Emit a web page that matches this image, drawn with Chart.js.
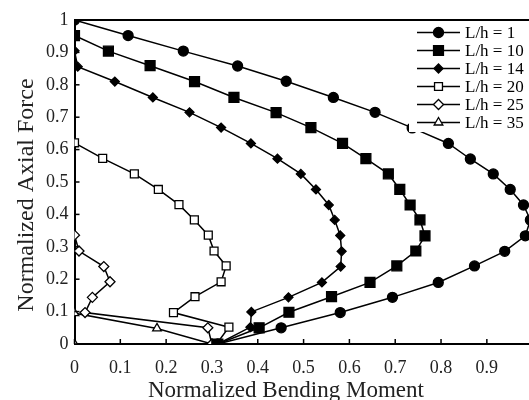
<!DOCTYPE html>
<html>
<head>
<meta charset="utf-8">
<script src="https://cdn.jsdelivr.net/npm/chart.js@4.4.0/dist/chart.umd.min.js"></script>
<style>
  body { margin: 0; background: #fff; }
  #wrap { width: 529px; height: 400px; position: relative; }
</style>
</head>
<body>
<div id="wrap"><canvas id="chart"></canvas></div>
<script>
// values (x = normalized moment, y = normalized axial force)
const seriesNames = ["L/h = 1", "L/h = 10", "L/h = 14", "L/h = 20", "L/h = 25", "L/h = 35"];

const m1 = [0, 0.117, 0.2375, 0.356, 0.462, 0.565, 0.656, 0.737, 0.816, 0.864, 0.914, 0.951, 0.980, 0.995, 0.984, 0.939, 0.873, 0.794, 0.694, 0.58, 0.451, 0.313];
const n1 = [1, 0.952, 0.904, 0.858, 0.811, 0.761, 0.715, 0.667, 0.619, 0.571, 0.525, 0.477, 0.429, 0.383, 0.334, 0.286, 0.241, 0.190, 0.144, 0.097, 0.050, 0];

const m10 = [0, 0.074, 0.165, 0.262, 0.348, 0.440, 0.516, 0.585, 0.636, 0.685, 0.710, 0.7325, 0.754, 0.765, 0.745, 0.7035, 0.645, 0.561, 0.468, 0.403, 0.313];
const n10 = [0.952, 0.904, 0.859, 0.810, 0.761, 0.714, 0.668, 0.619, 0.572, 0.525, 0.477, 0.429, 0.383, 0.334, 0.287, 0.241, 0.190, 0.146, 0.098, 0.050, 0];

const m14 = [0, 0.007, 0.088, 0.171, 0.251, 0.320, 0.385, 0.443, 0.494, 0.527, 0.555, 0.568, 0.58, 0.583, 0.581, 0.540, 0.467, 0.386, 0.384, 0.313];
const n14 = [0.905, 0.856, 0.810, 0.761, 0.715, 0.668, 0.619, 0.572, 0.525, 0.477, 0.429, 0.383, 0.335, 0.286, 0.239, 0.190, 0.144, 0.099, 0.052, 0];

const m20 = [0, 0.0615, 0.1306, 0.183, 0.228, 0.2616, 0.292, 0.3046, 0.331, 0.320, 0.263, 0.216, 0.337, 0.31];
const n20 = [0.621, 0.573, 0.525, 0.477, 0.430, 0.383, 0.336, 0.287, 0.241, 0.192, 0.146, 0.097, 0.052, 0];

const m25 = [0, 0.0098, 0.064, 0.0775, 0.039, 0.023, 0.291, 0.30];
const n25 = [0.336, 0.287, 0.239, 0.192, 0.144, 0.097, 0.050, 0];

const m35 = [0, 0, 0.18, 0.30];
const n35 = [0, 0.095, 0.048, 0];

const xTicks = [0, 0.1, 0.2, 0.3, 0.4, 0.5, 0.6, 0.7, 0.8, 0.9];
const yTicks = [0, 0.1, 0.2, 0.3, 0.4, 0.5, 0.6, 0.7, 0.8, 0.9, 1];

const FONT = "'Liberation Serif', 'Times New Roman', serif";

function pts(xs, ys) {
  return xs.map((v, i) => ({ x: v, y: ys[i] }));
}

function ds(label, xs, ys, style, radius, filled) {
  return {
    label: label,
    data: pts(xs, ys),
    showLine: true,
    borderColor: "#000",
    borderWidth: 1.5,
    pointStyle: style,
    pointRadius: radius,
    pointBorderColor: "#000",
    pointBorderWidth: 1.3,
    pointBackgroundColor: filled ? "#000" : "#fff"
  };
}

const datasets = [
  ds(seriesNames[0], m1, n1, "circle", 5, true),
  ds(seriesNames[1], m10, n10, "rect", 7, true),
  ds(seriesNames[2], m14, n14, "rectRot", 4.5, true),
  ds(seriesNames[3], m20, n20, "rect", 5.6, false),
  ds(seriesNames[4], m25, n25, "rectRot", 5, false),
  ds(seriesNames[5], m35, n35, "triangle", 5, false)
];

// inward tick marks, top frame line, axis titles and the boxed legend
const decor = {
  id: "decor",
  afterDraw(chart) {
    const { ctx, chartArea: a, scales: { x, y } } = chart;
    ctx.save();
    ctx.strokeStyle = "#000";
    ctx.lineWidth = 1.5;
    xTicks.forEach(v => {
      const px = x.getPixelForValue(v);
      ctx.beginPath(); ctx.moveTo(px, a.bottom); ctx.lineTo(px, a.bottom - 5); ctx.stroke();
    });
    yTicks.forEach(v => {
      const py = y.getPixelForValue(v);
      ctx.beginPath(); ctx.moveTo(a.left, py); ctx.lineTo(a.left + 5, py); ctx.stroke();
    });
    ctx.lineWidth = 2;
    ctx.beginPath(); ctx.moveTo(a.left, a.top); ctx.lineTo(chart.width, a.top); ctx.stroke();

    // legend
    ctx.fillStyle = "#fff";
    ctx.fillRect(409, 22, 120, 110);
    chart.data.datasets.forEach((d, i) => {
      const ly = 32.5 + i * 18;
      ctx.strokeStyle = "#000";
      ctx.lineWidth = 1.5;
      ctx.beginPath(); ctx.moveTo(417, ly); ctx.lineTo(460, ly); ctx.stroke();
      ctx.fillStyle = d.pointBackgroundColor;
      ctx.lineWidth = d.pointBorderWidth;
      Chart.helpers.drawPoint(ctx, { pointStyle: d.pointStyle, radius: d.pointRadius, rotation: 0, borderWidth: d.pointBorderWidth }, 438.5, ly);
      ctx.fillStyle = "#000";
      ctx.font = "17px " + FONT;
      ctx.textBaseline = "middle";
      ctx.textAlign = "left";
      ctx.fillText(d.label, 465, ly + 1);
    });

    // axis titles
    ctx.fillStyle = "#222";
    ctx.font = "23px " + FONT;
    ctx.textAlign = "left";
    ctx.textBaseline = "alphabetic";
    ctx.fillText("Normalized Bending Moment", 148, 397);
    ctx.translate(33, 195);
    ctx.rotate(-Math.PI / 2);
    ctx.textAlign = "center";
    ctx.font = "24px " + FONT;
    ctx.fillText("Normalized Axial Force", 0, 0);
    ctx.restore();
  }
};

new Chart(document.getElementById("chart"), {
  type: "scatter",
  data: { datasets: datasets },
  options: {
    responsive: true,
    maintainAspectRatio: false,
    animation: false,
    layout: { autoPadding: false, padding: { top: 20, right: 0, left: 0, bottom: 0 } },
    plugins: { legend: { display: false }, tooltip: { enabled: false } },
    scales: {
      x: {
        type: "linear",
        min: 0,
        max: 0.992,
        afterBuildTicks: s => { s.ticks = xTicks.map(v => ({ value: v })); },
        afterFit: s => { s.height = 56; s.paddingLeft = 0; s.paddingRight = 0; },
        grid: { display: false, drawTicks: false },
        border: { display: true, color: "#000", width: 2 },
        ticks: {
          padding: 13,
          color: "#222",
          font: { family: FONT, size: 18 },
          callback: v => String(Math.round(v * 10) / 10)
        }
      },
      y: {
        type: "linear",
        min: 0,
        max: 1,
        afterBuildTicks: s => { s.ticks = yTicks.map(v => ({ value: v })); },
        afterFit: s => { s.width = 74.5; s.paddingTop = 0; s.paddingBottom = 0; },
        grid: { display: false, drawTicks: false },
        border: { display: true, color: "#000", width: 2 },
        ticks: {
          padding: 6,
          color: "#222",
          font: { family: FONT, size: 18 },
          callback: v => String(Math.round(v * 10) / 10)
        }
      }
    }
  },
  plugins: [decor]
});
</script>
</body>
</html>
